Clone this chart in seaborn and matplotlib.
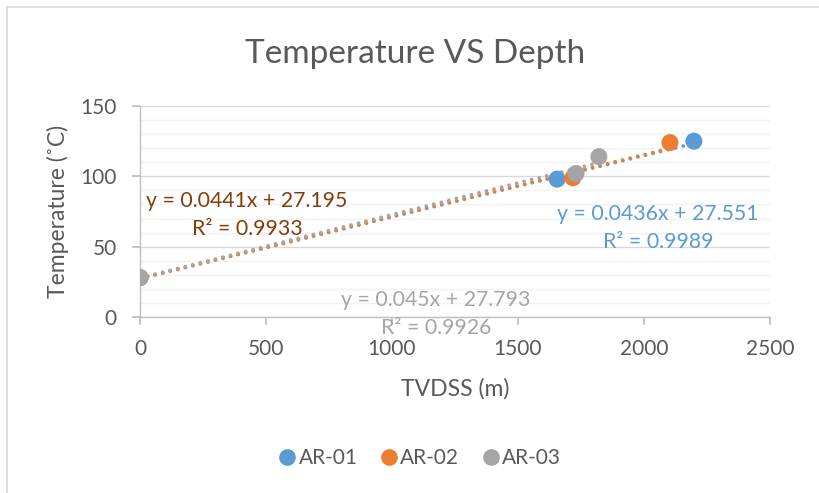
import numpy as np
import pandas as pd
import matplotlib
matplotlib.use("Agg")
import matplotlib.pyplot as plt
from matplotlib.lines import Line2D
import seaborn as sns

# Well temperature measurements (surface point + downhole readings)
wells = ["AR-01", "AR-01", "AR-01", "AR-02", "AR-02", "AR-02", "AR-03", "AR-03", "AR-03"]
depth_m = [0, 1655, 2198, 0, 1718, 2103, 0, 1730, 1821]
temperature_c = [28, 98, 125, 28, 99, 124, 28, 102, 114]

# Linear trend lines per well
trend_wells = ["AR-01", "AR-02", "AR-03"]
trend_slope = [0.0436, 0.0441, 0.045]
trend_intercept = [27.551, 27.195, 27.793]
trend_r2 = [0.9989, 0.9933, 0.9926]

colors = {"AR-01": "#5B9BD5", "AR-02": "#ED7D31", "AR-03": "#A5A5A5"}
label_colors = {"AR-01": "#5B9BD5", "AR-02": "#843C0C", "AR-03": "#A5A5A5"}
label_pos = {"AR-01": (658, 214), "AR-02": (247, 201), "AR-03": (436, 300)}

df = pd.DataFrame({"Well": wells, "TVDSS (m)": depth_m, "Temperature": temperature_c})

sns.set_theme(style="white")
plt.rcParams["font.family"] = ["Lato", "DejaVu Sans"]
text_col = "#595959"

W, H = 820, 493
fig = plt.figure(figsize=(W / 100, H / 100), dpi=100)
ax = fig.add_axes([140 / W, 1 - 317 / H, 630 / W, 211 / H])

# chart area border (left and top edges)
fig.add_artist(Line2D([7 / W, 7 / W], [0, 1 - 7 / H], transform=fig.transFigure,
                      color="#D9D9D9", linewidth=1.2))
fig.add_artist(Line2D([7 / W, 1], [1 - 7 / H, 1 - 7 / H], transform=fig.transFigure,
                      color="#D9D9D9", linewidth=1.2))

ax.set_xlim(0, 2500)
ax.set_ylim(0, 150)

# gridlines
ax.set_yticks(np.arange(0, 151, 50))
ax.set_yticks(np.arange(0, 151, 10), minor=True)
ax.grid(True, which="minor", axis="y", color="#F2F2F2", linewidth=1.0)
ax.grid(True, which="major", axis="y", color="#D9D9D9", linewidth=1.0)
ax.set_axisbelow(True)

# trend lines
for w, m, b in zip(trend_wells, trend_slope, trend_intercept):
    xmax = df.loc[df["Well"] == w, "TVDSS (m)"].max()
    xs = np.linspace(0, xmax, 50)
    ax.plot(xs, m * xs + b, color=colors[w], linewidth=2.6,
            linestyle=(0, (0.05, 2.1)), dash_capstyle="round", zorder=2)

sns.scatterplot(data=df, x="TVDSS (m)", y="Temperature", hue="Well",
                palette=colors, s=150, edgecolor="none", ax=ax, legend=False, zorder=3)

# trend equation labels
for w, m, b, r2 in zip(trend_wells, trend_slope, trend_intercept, trend_r2):
    px, py = label_pos[w]
    fig.text(px / W, 1 - py / H, f"y = {m:g}x + {b:.3f}", ha="center", va="center",
             color=label_colors[w], fontsize=15.3)
    fig.text(px / W, 1 - (py + 28) / H, f"R² = {r2:.4f}", ha="center", va="center",
             color=label_colors[w], fontsize=15.3)

ax.set_xticks(np.arange(0, 2501, 500))
for s in ["top", "right"]:
    ax.spines[s].set_visible(False)
for s in ["left", "bottom"]:
    ax.spines[s].set_color("#BFBFBF")
    ax.spines[s].set_linewidth(1.0)
ax.tick_params(axis="x", which="major", direction="out", length=5.8, color="#BFBFBF",
               labelsize=15, labelcolor=text_col, pad=10, bottom=True)
ax.tick_params(axis="y", which="major", direction="out", length=5.8, color="#BFBFBF",
               labelsize=15, labelcolor=text_col, pad=11, left=True)
ax.tick_params(axis="y", which="minor", left=False)

ax.set_xlabel("TVDSS (m)", fontsize=16.5, color=text_col, labelpad=14)
ax.set_ylabel("Temperature (˚C)", fontsize=16.5, color=text_col, labelpad=8)

fig.text(415 / W, 1 - 63 / H, "Temperature VS Depth", ha="center",
         va="baseline", fontsize=24, color=text_col)

handles = [Line2D([], [], marker="o", linestyle="none", markersize=12,
                  markerfacecolor=colors[w], markeredgecolor="none", label=w)
           for w in trend_wells]
fig.legend(handles=handles, loc="center", bbox_to_anchor=(419 / W, 1 - 458 / H), ncol=3,
           frameon=False, fontsize=15, labelcolor=text_col, handletextpad=0.05,
           columnspacing=1.0, handlelength=1.0)

fig.savefig("out.png", dpi=100)
